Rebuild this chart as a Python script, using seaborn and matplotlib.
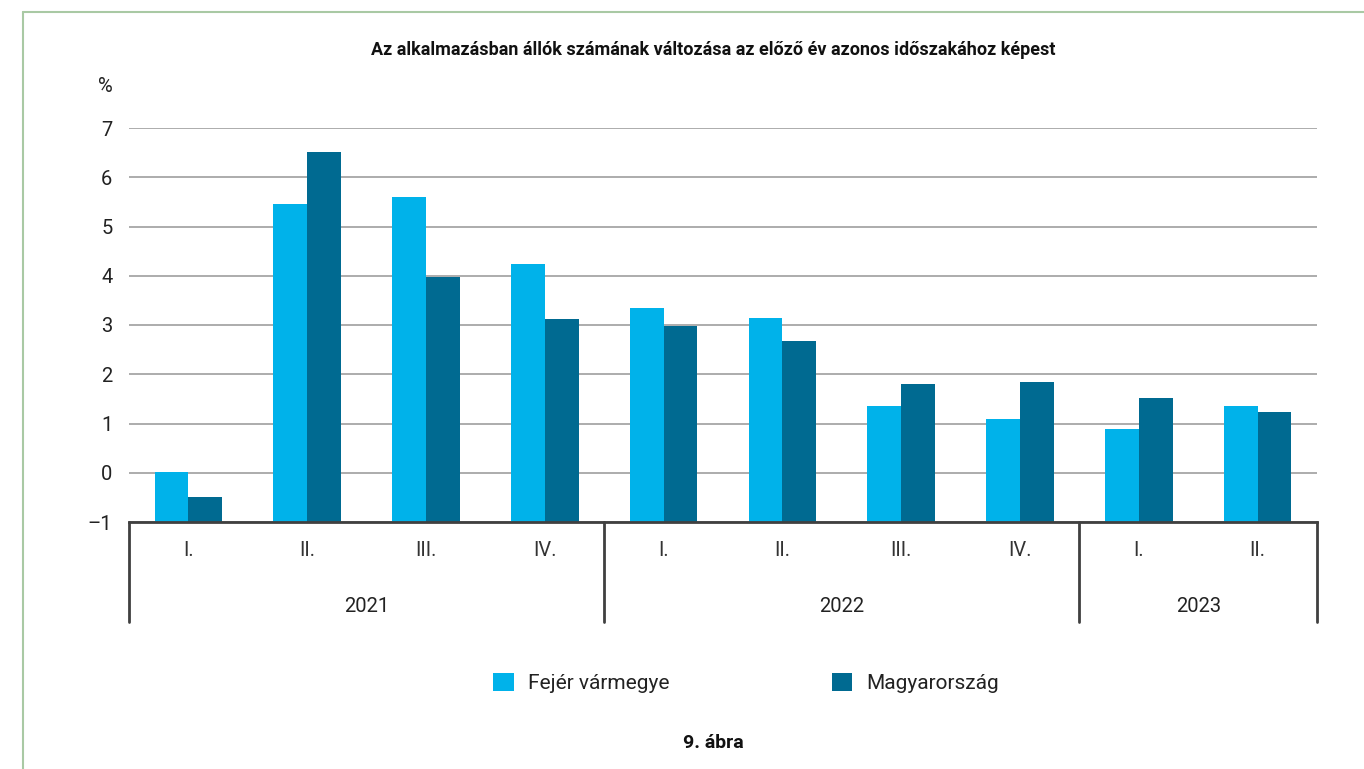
import pandas as pd
import numpy as np
import seaborn as sns
import matplotlib.pyplot as plt
from matplotlib.lines import Line2D
from matplotlib.patches import Patch
import matplotlib.transforms as mtransforms

# Data
years = ['2021', '2022', '2023']
quarters_per_year = [4, 4, 2]
quarters = ['I.', 'II.', 'III.', 'IV.', 'I.', 'II.', 'III.', 'IV.', 'I.', 'II.']
fejer = [0.02, 5.46, 5.60, 4.24, 3.35, 3.15, 1.36, 1.10, 0.89, 1.36]
magyar = [-0.50, 6.52, 3.98, 3.13, 2.98, 2.68, 1.81, 1.85, 1.52, 1.24]
series = ['Fejér vármegye', 'Magyarország']
colors = ['#00b2ea', '#006a91']

period = [f'{y} {q}' for y, n in zip(years, quarters_per_year) for q in quarters[:n]]
df = pd.DataFrame({
    'period': period * 2,
    'value': fejer + magyar,
    'series': [series[0]] * len(fejer) + [series[1]] * len(magyar),
})

sns.set_style('white')
plt.rcParams['font.family'] = ['Roboto', 'DejaVu Sans']
fs = 14.5

fig = plt.figure(figsize=(13.64, 7.69), dpi=100)
ax = fig.add_axes([129 / 1364, 1 - 522 / 769, (1317 - 129) / 1364, (522 - 128) / 769])

sns.barplot(data=df, x='period', y='value', hue='series', palette=colors,
            width=0.57, saturation=1, legend=False, ax=ax)

# bars start from the bottom of the axis (-1), like the original
for p in ax.patches:
    v = p.get_y() + p.get_height()
    p.set_y(-1)
    p.set_height(v + 1)
    p.set_linewidth(0)

ax.set_ylim(-1, 7)
ax.set_xlim(-0.5, len(period) - 0.5)
ax.set_yticks(range(-1, 8))
ax.set_yticklabels([str(t).replace('-', '\u2013') for t in range(-1, 8)])
ax.yaxis.grid(True, color='#a6a6a6', linewidth=1.3)
ax.set_axisbelow(True)
ax.set_xlabel('')
ax.set_ylabel('')
for s in ['top', 'right', 'left']:
    ax.spines[s].set_visible(False)
ax.spines['bottom'].set_color('#404040')
ax.spines['bottom'].set_linewidth(2)
ax.tick_params(axis='y', length=0, pad=12, labelsize=fs, labelcolor='#222222')
ax.set_xticks(range(len(period)))
ax.set_xticklabels(quarters)
ax.tick_params(axis='x', length=0, pad=14, labelsize=fs, labelcolor='#333333')

# year labels and separators below the axis
trans = mtransforms.blended_transform_factory(ax.transData, ax.transAxes)
start = 0
bounds = [-0.5]
for y, n in zip(years, quarters_per_year):
    center = start + (n - 1) / 2
    ax.text(center, -0.215, y, transform=trans, ha='center', va='center',
            fontsize=fs, color='#222222')
    start += n
    bounds.append(start - 0.5)
for b in bounds:
    ax.add_line(Line2D([b, b], [0, -0.254], transform=trans, color='#404040',
                       linewidth=2, clip_on=False))

pct_trans = ax.transAxes + mtransforms.ScaledTranslation(-16 / 100, 0, fig.dpi_scale_trans)
ax.text(0, 1.105, '%', transform=pct_trans, ha='right', va='center',
        fontsize=fs, color='#222222')

fig.text(713 / 1364, 1 - 50 / 769, 'Az alkalmazásban állók számának változása az előző év azonos időszakához képest',
         ha='center', va='center', fontsize=13, fontweight='bold', color='#111111')
fig.text(713 / 1364, 1 - 743 / 769, '9. ábra', ha='center', va='center', fontsize=14,
         fontweight='bold', color='#111111')

handles = [Patch(facecolor=c, edgecolor='none', label=s) for c, s in zip(colors, series)]
fig.legend(handles=handles, loc='center', bbox_to_anchor=(746 / 1364, 1 - 683 / 769), ncol=2,
           frameon=False, fontsize=15, handlelength=1.0, handleheight=1.0,
           handletextpad=0.67, columnspacing=7.8, labelcolor='#222222')

# green frame on top and left
fig.add_artist(Line2D([23 / 1364, 1], [1 - 12 / 769, 1 - 12 / 769], transform=fig.transFigure,
                      color='#a9c9a4', linewidth=1.5))
fig.add_artist(Line2D([23 / 1364, 23 / 1364], [0, 1 - 12 / 769], transform=fig.transFigure,
                      color='#a9c9a4', linewidth=1.5))

fig.savefig('out.png', dpi=100)
